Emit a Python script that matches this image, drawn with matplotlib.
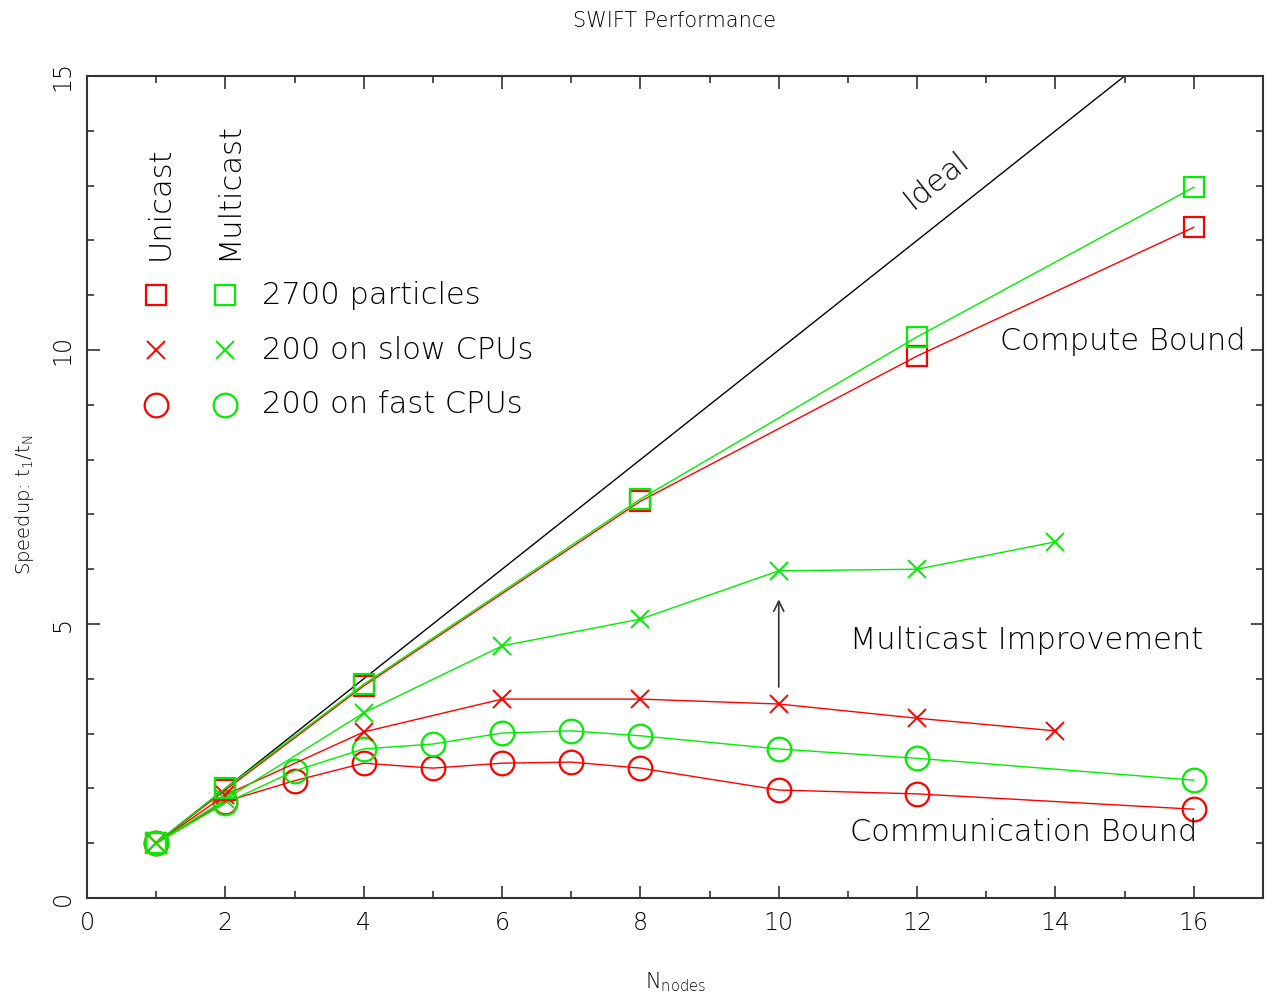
import matplotlib
matplotlib.use("Agg")
import matplotlib.pyplot as plt
from matplotlib.ticker import MultipleLocator

plt.rcParams['font.family'] = ['DejaVu Sans']
plt.rcParams['font.weight'] = 'light'
plt.rcParams['axes.titleweight'] = 'light'
plt.rcParams['axes.labelweight'] = 'light'

# Data
nodes_2700 = [1, 2, 4, 8, 12, 16]
uni_2700 = [1.0, 1.97, 3.87, 7.24, 9.89, 12.24]
multi_2700 = [1.0, 2.0, 3.90, 7.28, 10.24, 12.97]

nodes_slow = [1, 2, 4, 6, 8, 10, 12, 14]
uni_slow = [1.0, 1.88, 3.03, 3.63, 3.63, 3.54, 3.28, 3.05]
multi_slow = [1.0, 1.80, 3.38, 4.60, 5.09, 5.97, 6.00, 6.50]

nodes_fast = [1, 2, 3, 4, 5, 6, 7, 8, 10, 12, 16]
uni_fast = [1.0, 1.76, 2.14, 2.46, 2.37, 2.46, 2.48, 2.37, 1.97, 1.90, 1.62]
multi_fast = [1.0, 1.73, 2.32, 2.72, 2.81, 3.01, 3.05, 2.96, 2.72, 2.55, 2.15]

ideal_x = [1, 17]
ideal_y = [1, 17]

RED = '#ff0000'
GREEN = '#00ee00'

fig = plt.figure(figsize=(12.68, 9.99), dpi=100)
ax = fig.add_axes([87/1268, 101/999, (1263-87)/1268, (898-76)/999])

ax.plot(ideal_x, ideal_y, color='black', lw=1.0)

sq = dict(marker='s', ms=14, mfc='none', mew=1.6, lw=1.0)
xx = dict(marker='x', ms=13, mew=1.4, lw=1.0)
oo = dict(marker='o', ms=17, mfc='none', mew=1.6, lw=1.0)

ax.plot(nodes_fast, uni_fast, color=RED, **oo)
ax.plot(nodes_fast, multi_fast, color=GREEN, **oo)
ax.plot(nodes_slow, uni_slow, color=RED, **xx)
ax.plot(nodes_slow, multi_slow, color=GREEN, **xx)
ax.plot(nodes_2700, uni_2700, color=RED, **sq)
ax.plot(nodes_2700, multi_2700, color=GREEN, **sq)

# legend made of markers + texts
leg_y = [11, 10, 9]
leg_labels = ['2700 particles', '200 on slow CPUs', '200 on fast CPUs']
leg_markers = [sq, xx, oo]
FS = 22
for yy, lab, mk in zip(leg_y, leg_labels, leg_markers):
    m = dict(mk); m['lw'] = 0
    ax.plot([1], [yy], color=RED, **m)
    ax.plot([2], [yy], color=GREEN, **m)
    ax.text(2.53, yy, lab, fontsize=FS, va='center', ha='left')
ax.text(1.05, 11.65, 'Unicast', rotation=90, fontsize=FS, ha='center', va='bottom')
ax.text(2.05, 11.65, 'Multicast', rotation=90, fontsize=FS, ha='center', va='bottom')

ax.text(12.27, 13.1, 'Ideal', rotation=38.4, fontsize=FS, ha='center', va='center',
        rotation_mode='anchor')
ax.text(16.75, 10.16, 'Compute Bound', fontsize=FS, ha='right', va='center')
ax.text(11.03, 4.69, 'Multicast Improvement', fontsize=FS, ha='left', va='center')
ax.text(11.03, 1.19, 'Communication Bound', fontsize=FS, ha='left', va='center')

ax.annotate('', xy=(10, 5.5), xytext=(10, 3.8),
            arrowprops=dict(arrowstyle='->', color='#333333', lw=1.2, mutation_scale=18))

ax.set_xlim(0, 17)
ax.set_ylim(0, 15)
ax.xaxis.set_major_locator(MultipleLocator(2))
ax.xaxis.set_minor_locator(MultipleLocator(1))
ax.yaxis.set_major_locator(MultipleLocator(5))
ax.yaxis.set_minor_locator(MultipleLocator(1))
ax.tick_params(which='both', direction='in', top=True, right=True, color='#333333', width=1.2)
ax.tick_params(which='major', length=9, labelsize=17, pad=9)
ax.tick_params(which='minor', length=5)
for lab in ax.get_yticklabels():
    lab.set_rotation(90)
    lab.set_va('center')
for s in ax.spines.values():
    s.set_linewidth(1.5)
    s.set_color('#333333')

ax.set_xlabel('N$_\\mathregular{nodes}$', fontsize=15, labelpad=26)
ax.set_ylabel('Speedup: t$_\\mathregular{1}$/t$_\\mathregular{N}$', fontsize=14)
ax.yaxis.set_label_coords(-0.043, 0.478)
ax.set_title('SWIFT Performance', fontsize=15, pad=35)

fig.savefig('out.png', dpi=100)
